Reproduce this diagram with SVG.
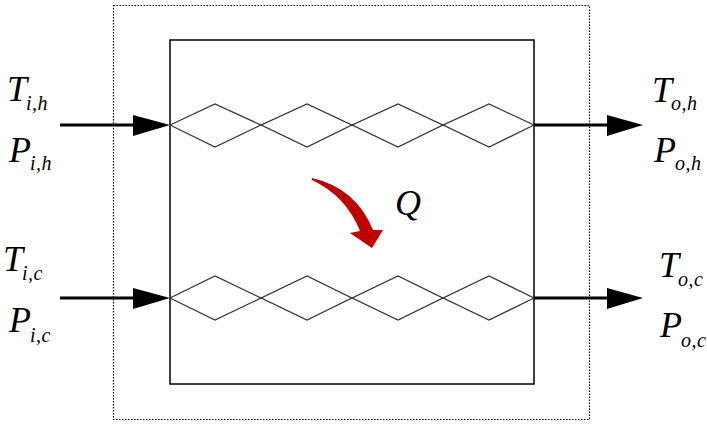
<svg xmlns="http://www.w3.org/2000/svg" width="707" height="424" viewBox="0 0 707 424">
<style>
.lbl{font-family:"Liberation Serif","Times New Roman",serif;font-style:italic;font-size:36px;fill:#000}
.sub{font-size:20px;letter-spacing:0.5px}
.zz{fill:none;stroke:#333;stroke-width:1.2}
.flow{stroke:#000;stroke-width:3;fill:none}
.head{fill:#000}
</style>
<rect width="707" height="424" fill="#fff"/>
<g id="boundary">
<rect x="113.5" y="5.5" width="476" height="414" fill="none" stroke="#000" stroke-width="1.2" stroke-dasharray="1.5,1.5"/>
</g>
<g id="exchanger">
<rect x="170" y="40" width="364" height="344" fill="none" stroke="#000" stroke-width="1.5"/>
</g>
<g id="hot-channel">
<path class="zz" d="M170 125 L215 104 L261 125 L307 104 L352 125 L398 104 L443 125 L489 104 L534 125"/>
<path class="zz" d="M170 125 L215 147 L261 125 L307 147 L352 125 L398 147 L443 125 L489 147 L534 125"/>
</g>
<g id="cold-channel">
<path class="zz" d="M170 298 L215 276 L261 298 L307 276 L352 298 L398 276 L443 298 L489 276 L534 298"/>
<path class="zz" d="M170 298 L215 320 L261 298 L307 320 L352 298 L398 320 L443 298 L489 320 L534 298"/>
</g>
<g id="connectors">
<line class="flow" x1="60" y1="125" x2="140" y2="125"/>
<polygon class="head" points="133,115 170,125 133,136"/>
<line class="flow" x1="534" y1="125" x2="612" y2="125"/>
<polygon class="head" points="607,115 643,125 607,136"/>
<line class="flow" x1="60" y1="298" x2="140" y2="298"/>
<polygon class="head" points="133,288 170,298 133,309"/>
<line class="flow" x1="534" y1="298" x2="612" y2="298"/>
<polygon class="head" points="607,288 643,298 607,309"/>
</g>
<g id="heat-flow">
<path d="M312 178 Q356 188 373 230 L383 230 L372 248 L350 233 L360 231 Q346 196 312 180 Z" fill="#c00000"/>
<text class="lbl" x="395" y="215">Q</text>
</g>
<g id="inlet-hot">
<text class="lbl" x="7" y="101">T<tspan class="sub" dx="-1" dy="9">i,h</tspan></text>
<text class="lbl" x="9" y="162">P<tspan class="sub" dx="-1" dy="8">i,h</tspan></text>
</g>
<g id="inlet-cold">
<text class="lbl" x="3" y="271">T<tspan class="sub" dx="-1" dy="9">i,c</tspan></text>
<text class="lbl" x="9" y="332">P<tspan class="sub" dx="-1" dy="10">i,c</tspan></text>
</g>
<g id="outlet-hot">
<text class="lbl" x="652" y="102">T<tspan class="sub" dx="-1" dy="8">o,h</tspan></text>
<text class="lbl" x="654" y="162">P<tspan class="sub" dx="-1" dy="8">o,h</tspan></text>
</g>
<g id="outlet-cold">
<text class="lbl" x="659" y="277">T<tspan class="sub" dx="-1" dy="9">o,c</tspan></text>
<text class="lbl" x="660" y="337">P<tspan class="sub" dx="-1" dy="10">o,c</tspan></text>
</g>
</svg>
